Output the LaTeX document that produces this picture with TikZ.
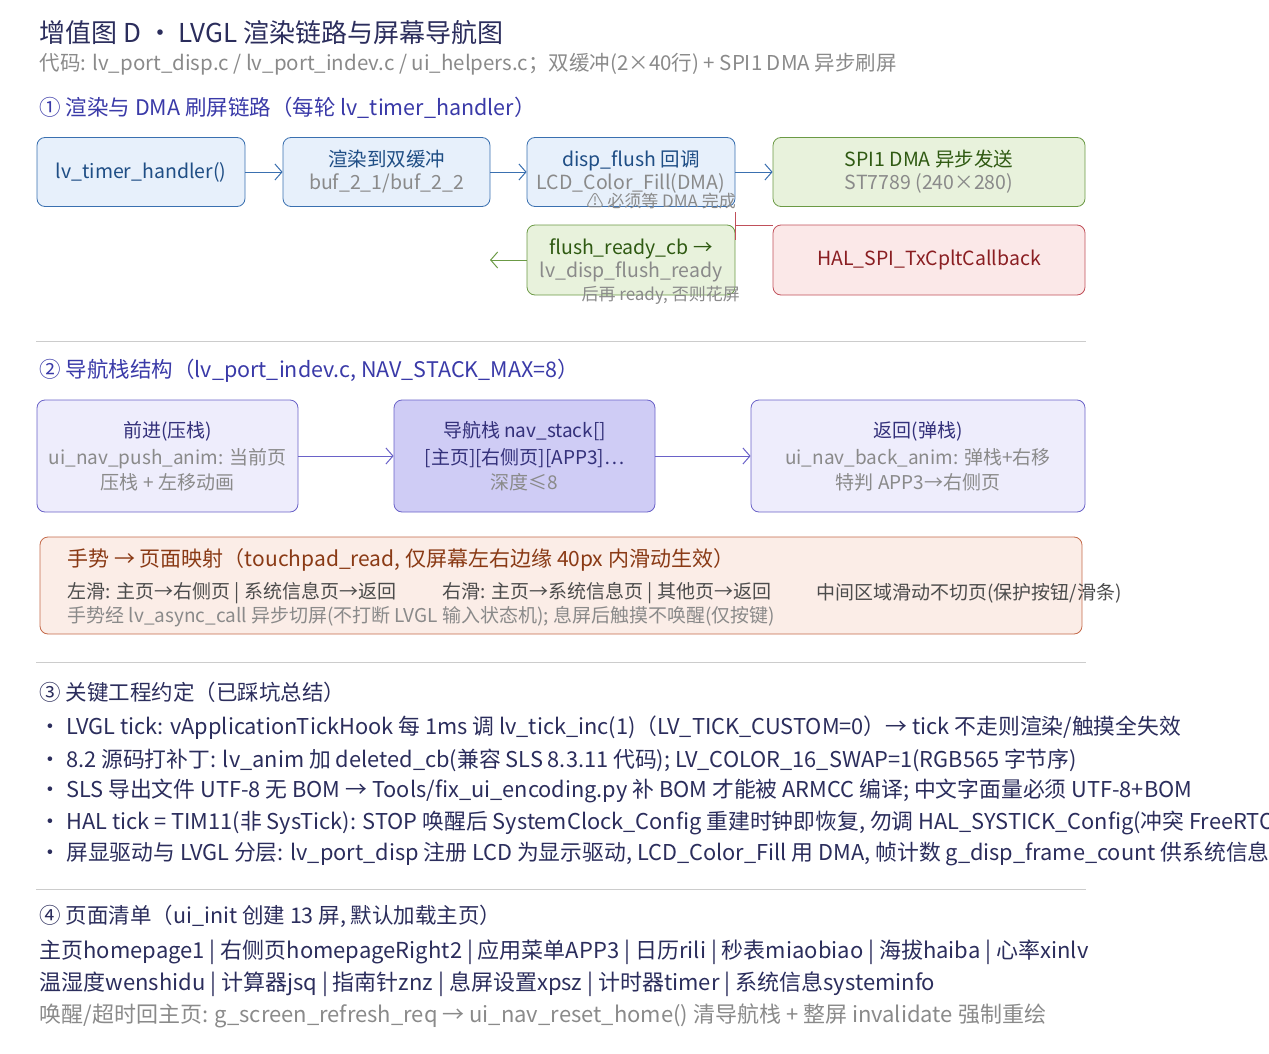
\documentclass[tikz,border=0pt]{standalone}
\usepackage{fontspec}
\setmainfont{Noto Sans CJK SC}
\usetikzlibrary{arrows.meta,positioning}
\definecolor{navy}{HTML}{2B2D5C}
\definecolor{secblue}{HTML}{3A3AA8}
\definecolor{grey}{HTML}{8A8A8A}
\definecolor{bluefill}{HTML}{E7F0FB}
\definecolor{blueline}{HTML}{3A70B0}
\definecolor{bluetext}{HTML}{1F4E85}
\definecolor{greenfill}{HTML}{E8F2DC}
\definecolor{greenline}{HTML}{6B9A45}
\definecolor{greentext}{HTML}{2F5A12}
\definecolor{redfill}{HTML}{FBE8E8}
\definecolor{redline}{HTML}{C0505A}
\definecolor{redtext}{HTML}{8A1E22}
\definecolor{purfill}{HTML}{EEEDFC}
\definecolor{purdark}{HTML}{CFCCF5}
\definecolor{purline}{HTML}{6A62C8}
\definecolor{purtext}{HTML}{33307A}
\definecolor{orfill}{HTML}{FBEDE7}
\definecolor{orline}{HTML}{C46A4A}
\definecolor{ortext}{HTML}{8A3A15}
\definecolor{rule}{HTML}{CCCCCC}
\tikzset{
  box/.style={draw, rounded corners=8pt, line width=0.8pt, align=center, inner sep=0pt, font=\fontsize{19.5}{23}\selectfont},
  bluebox/.style={box, fill=bluefill, draw=blueline, text=bluetext},
  greenbox/.style={box, fill=greenfill, draw=greenline, text=greentext},
  redbox/.style={box, fill=redfill, draw=redline, text=redtext},
  navbox/.style={box, fill=purfill, draw=purline, text=purtext, font=\fontsize{19}{27}\selectfont},
  sub/.style={text=grey},
  sect/.style={anchor=west, text=secblue, font=\fontsize{21.5}{24}\selectfont},
  txt/.style={anchor=west, text=navy, font=\fontsize{21}{24}\selectfont},
  gtxt/.style={anchor=west, text=grey, font=\fontsize{20.5}{22}\selectfont},
  link/.style={-{Straight Barb[length=7pt,width=16pt]}, line width=1pt},
  sep/.style={draw=rule, line width=1pt}
}
\begin{document}
\begin{tikzpicture}[x=1pt,y=-1pt]
\useasboundingbox (0,0) rectangle (1269,1054);
% header
\node[txt, font=\fontsize{26}{28}\selectfont] (title) at (36,33) {增值图 D ・ LVGL 渲染链路与屏幕导航图};
\node[gtxt] (code) at (36,64) {代码: lv\_port\_disp.c / lv\_port\_indev.c / ui\_helpers.c；双缓冲(2×40行) + SPI1 DMA 异步刷屏};
% section 1
\node[sect] (s1) at (36,108) {① 渲染与 DMA 刷屏链路（每轮 lv\_timer\_handler）};
\node[bluebox, minimum width=208pt, minimum height=69pt] (timer) at (141,172) {lv\_timer\_handler()};
\node[bluebox, minimum width=207pt, minimum height=69pt] (render) at (386.5,172) {渲染到双缓冲\\{\color{grey}buf\_2\_1/buf\_2\_2}};
\node[bluebox, minimum width=208pt, minimum height=69pt] (flush) at (631,172) {disp\_flush 回调\\{\color{grey}LCD\_Color\_Fill(DMA)}};
\node[greenbox, minimum width=312pt, minimum height=69pt] (spi) at (929,172) {SPI1 DMA 异步发送\\{\color{grey}ST7789 (240×280)}};
\node[greenbox, minimum width=208pt, minimum height=70pt] (ready) at (631,260) {flush\_ready\_cb →\\{\color{grey}lv\_disp\_flush\_ready}};
\node[redbox, minimum width=312pt, minimum height=70pt] (hal) at (929,260) {HAL\_SPI\_TxCpltCallback};
\node[gtxt, font=\fontsize{17}{18}\selectfont] (warn1) at (583,201) {⚠ 必须等 DMA 完成};
\node[gtxt, font=\fontsize{17}{18}\selectfont] (warn2) at (578,295) {后再 ready, 否则花屏};
\draw[link, blueline] (timer) -- (render);
\draw[link, blueline] (render) -- (flush);
\draw[link, blueline] (flush) -- (spi);
\coordinate (jt) at (735,212);
\coordinate (jb) at (735,240);
\coordinate (jm) at (735,225);
\coordinate (back) at (490,260);
\draw[redline, line width=1pt] (jt) -- (jb);
\draw[redline, line width=1pt] (jm) -- (hal.west |- jm);
\draw[link, greenline] (ready) -- (back);
\draw[sep] (36,341) -- (1086,341);
% section 2
\node[sect] (s2) at (36,371) {② 导航栈结构（lv\_port\_indev.c, NAV\_STACK\_MAX=8）};
\node[navbox, minimum width=261pt, minimum height=112pt] (push) at (167.5,456) {前进(压栈)\\{\color{grey}ui\_nav\_push\_anim: 当前页}\\[-2pt]{\color{grey}压栈 + 左移动画}};
\node[navbox, fill=purdark, minimum width=261pt, minimum height=112pt] (stack) at (524.5,456) {导航栈 nav\_stack[]\\{}[主页][右侧页][APP3]…\\[-2pt]{\color{grey}深度≤8}};
\node[navbox, minimum width=334pt, minimum height=112pt] (pop) at (918,456) {返回(弹栈)\\{\color{grey}ui\_nav\_back\_anim: 弹栈+右移}\\[-2pt]{\color{grey}特判 APP3→右侧页}};
\draw[link, purline] (push) -- (stack);
\draw[link, purline] (stack) -- (pop);
\node[box, fill=orfill, draw=orline, minimum width=1042pt, minimum height=97pt] (gest) at (561,585.5) {};
\node[anchor=west, text=ortext, font=\fontsize{21}{22}\selectfont] (gt) at (64,560) {手势 → 页面映射（touchpad\_read, 仅屏幕左右边缘 40px 内滑动生效）};
\node[gtxt, text=black!70, font=\fontsize{19}{20}\selectfont] (gl) at (64,593) {左滑: 主页→右侧页 | 系统信息页→返回};
\node[gtxt, text=black!70, font=\fontsize{19}{20}\selectfont] (gr) at (439,593) {右滑: 主页→系统信息页 | 其他页→返回};
\node[gtxt, text=black!70, font=\fontsize{19}{20}\selectfont] (gm) at (813,593) {中间区域滑动不切页(保护按钮/滑条)};
\node[gtxt, font=\fontsize{19}{20}\selectfont] (gn) at (64,617) {手势经 lv\_async\_call 异步切屏(不打断 LVGL 输入状态机); 息屏后触摸不唤醒(仅按键)};
\draw[sep] (36,662) -- (1086,662);
% section 3
\node[sect, text=navy] (s3) at (36,692) {③ 关键工程约定（已踩坑总结）};
\foreach \y/\t in {728/{LVGL tick: vApplicationTickHook 每 1ms 调 lv\_tick\_inc(1)（LV\_TICK\_CUSTOM=0）→ tick 不走则渲染/触摸全失效},
  760/{8.2 源码打补丁: lv\_anim 加 deleted\_cb(兼容 SLS 8.3.11 代码); LV\_COLOR\_16\_SWAP=1(RGB565 字节序)},
  791/{SLS 导出文件 UTF-8 无 BOM → Tools/fix\_ui\_encoding.py 补 BOM 才能被 ARMCC 编译; 中文字面量必须 UTF-8+BOM},
  823/{HAL tick = TIM11(非 SysTick): STOP 唤醒后 SystemClock\_Config 重建时钟即恢复, 勿调 HAL\_SYSTICK\_Config(冲突 FreeRTOS)},
  854/{屏显驱动与 LVGL 分层: lv\_port\_disp 注册 LCD 为显示驱动, LCD\_Color\_Fill 用 DMA, 帧计数 g\_disp\_frame\_count 供系统信息页}}
  \node[txt, font=\fontsize{21.8}{24}\selectfont] (b\y) at (36,\y) {・ \t};
\draw[sep] (36,889) -- (1086,889);
% section 4
\node[sect, text=navy] (s4) at (36,916) {④ 页面清单（ui\_init 创建 13 屏, 默认加载主页）};
\node[txt, font=\fontsize{22}{24}\selectfont] (p1) at (36,952) {主页homepage1 | 右侧页homepageRight2 | 应用菜单APP3 | 日历rili | 秒表miaobiao | 海拔haiba | 心率xinlv};
\node[txt, font=\fontsize{22}{24}\selectfont] (p2) at (36,984) {温湿度wenshidu | 计算器jsq | 指南针znz | 息屏设置xpsz | 计时器timer | 系统信息systeminfo};
\node[txt, text=grey, font=\fontsize{22}{24}\selectfont] (p3) at (36,1016) {唤醒/超时回主页: g\_screen\_refresh\_req → ui\_nav\_reset\_home() 清导航栈 + 整屏 invalidate 强制重绘};
\end{tikzpicture}
\end{document}
